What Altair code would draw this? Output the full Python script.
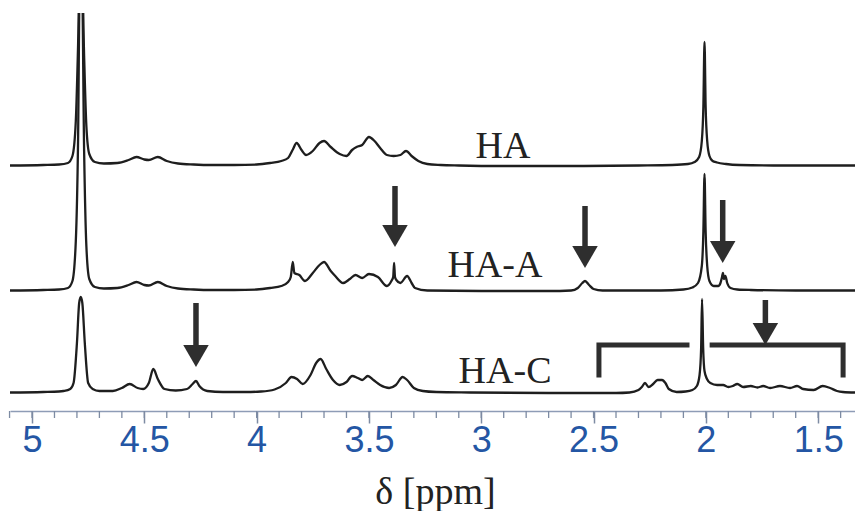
import altair as alt
import pandas as pd

# 1H NMR spectra (intensity above each trace's own baseline, arbitrary units)
ha_ppm = [5.10, 4.95, 4.88, 4.84, 4.82, 4.805, 4.795, 4.787, 4.778, 4.768, 4.758, 4.745, 4.72, 4.68,
          4.62, 4.57, 4.535, 4.50, 4.48, 4.44, 4.40, 4.35, 4.28, 4.20, 4.10, 4.00, 3.94, 3.89, 3.86,
          3.84, 3.822, 3.80, 3.78, 3.75, 3.72, 3.70, 3.67, 3.63, 3.60, 3.575, 3.555, 3.53, 3.50,
          3.475, 3.45, 3.42, 3.39, 3.36, 3.335, 3.31, 3.28, 3.24, 3.18, 3.10, 2.90, 2.60, 2.30, 2.15,
          2.08, 2.05, 2.03, 2.018, 2.011, 2.006, 2.001, 1.994, 1.984, 1.97, 1.95, 1.91, 1.85, 1.70,
          1.50, 1.336]
ha_int = [0.5, 1, 1.5, 3, 10, 45, 120, 200, 200, 110, 40, 12, 4, 2.5,
          3, 6, 9, 6.5, 6, 9, 5, 2.5, 1.5, 1, 1, 1.5, 3, 5, 8,
          16, 23, 16, 11, 15, 23, 25, 19, 12, 10, 16, 19, 21, 29,
          25, 18, 11, 10, 11, 15, 10, 5, 2, 1, 0.5, 0, 0, 0.5, 1,
          2, 4, 9, 25, 60, 124, 60, 25, 10, 5, 3.5, 2, 1, 0.5,
          0.5, 0.5]

haa_ppm = [5.10, 4.95, 4.88, 4.84, 4.82, 4.805, 4.795, 4.787, 4.778, 4.768, 4.758, 4.745, 4.72, 4.68,
           4.62, 4.57, 4.535, 4.50, 4.48, 4.44, 4.40, 4.35, 4.28, 4.20, 4.10, 4.00, 3.94, 3.89, 3.86,
           3.848, 3.839, 3.832, 3.81, 3.785, 3.75, 3.72, 3.70, 3.67, 3.65, 3.615, 3.585, 3.56, 3.53,
           3.50, 3.46, 3.42, 3.40, 3.392, 3.388, 3.384, 3.378, 3.36, 3.33, 3.31, 3.295, 3.24, 3.00,
           2.70, 2.60, 2.57, 2.55, 2.538, 2.52, 2.50, 2.46, 2.20, 2.10, 2.06, 2.035, 2.018, 2.011,
           2.006, 2.001, 1.994, 1.984, 1.965, 1.945, 1.935, 1.928, 1.924, 1.919, 1.913, 1.905, 1.89,
           1.86, 1.80, 1.60, 1.336]
haa_int = [0.5, 1, 1.5, 3, 10, 50, 150, 320, 320, 140, 45, 12, 4, 2.5,
           3, 6, 9, 6, 5.5, 9, 5, 2.5, 1.5, 1, 1, 1.5, 3, 5, 9,
           14, 29, 18, 16, 10, 18, 26, 29, 20, 15, 8, 12, 16, 13,
           17, 14, 5, 10, 14, 28, 14, 11, 8, 15, 8, 3, 0.5, 0,
           0, 0.5, 3, 8, 10, 6, 2, 0.5, 0.5, 1.5, 3.5, 8, 25, 60,
           117, 60, 25, 10, 5, 5, 8, 14, 18, 12, 15, 8, 3,
           1.5, 1, 0.5, 0.5]

hac_ppm = [5.10, 4.95, 4.88, 4.86, 4.83, 4.815, 4.80, 4.79, 4.783, 4.776, 4.765, 4.75, 4.73, 4.70,
           4.64, 4.60, 4.565, 4.53, 4.505, 4.48, 4.46, 4.44, 4.41, 4.36, 4.31, 4.285, 4.27, 4.255,
           4.22, 4.15, 4.05, 3.98, 3.92, 3.87, 3.845, 3.82, 3.795, 3.76, 3.735, 3.715, 3.69, 3.66,
           3.63, 3.60, 3.575, 3.55, 3.53, 3.505, 3.48, 3.45, 3.41, 3.38, 3.35, 3.33, 3.30, 3.26,
           3.20, 3.05, 2.70, 2.40, 2.34, 2.30, 2.285, 2.271, 2.255, 2.235, 2.215, 2.195, 2.18, 2.165,
           2.13, 2.09, 2.06, 2.04, 2.028, 2.021, 2.017, 2.012, 2.006, 1.995, 1.98, 1.95, 1.923, 1.90,
           1.88, 1.86, 1.834, 1.80, 1.77, 1.745, 1.714, 1.67, 1.625, 1.594, 1.567, 1.52, 1.48, 1.447,
           1.416, 1.39, 1.336]
hac_int = [0.5, 1, 1.5, 2, 4, 10, 50, 90, 96, 90, 50, 10, 4, 2,
           2, 5, 9, 5, 4, 10, 24, 14, 4, 2.5, 4, 9, 12, 7,
           2, 1, 1, 1.5, 3.5, 10, 16, 14, 9, 18, 30, 34, 24, 13,
           8, 11, 17, 15, 13, 17, 13, 8, 5, 8, 16, 13, 5, 2,
           1, 0.5, 0, 0, 0.5, 3, 6, 10, 6, 9, 13, 13, 10, 4,
           1, 1.5, 3, 7, 18, 45, 94, 45, 22, 14, 10, 8, 8, 6,
           7, 9, 6, 7, 5.5, 7, 5, 7, 5, 7, 4, 3, 7, 5,
           2, 1, 0.5]

series_names = ["HA", "HA-A", "HA-C"]

# vertical stacking of the three traces and where their names sit
offsets = {"HA": 245, "HA-A": 120, "HA-C": 18}
name_pos = {"HA": (2.903, 253), "HA-A": (2.939, 134), "HA-C": (2.894, 28)}

# arrows: ppm, shaft top, head centre
arrow_ppm = [3.384, 2.538, 1.925, 4.27, 1.735]
arrow_top = [225, 205, 211, 108, 111]
arrow_head = [175, 154, 159, 55, 77]

# brackets over the HA-C region: (group, ppm, y)
bracket_pts = [("L", 2.476, 36), ("L", 2.476, 66), ("L", 2.084, 66),
               ("R", 1.972, 66), ("R", 1.389, 66), ("R", 1.389, 36)]

major_ticks = [5, 4.5, 4, 3.5, 3, 2.5, 2, 1.5]
minor_ticks = [round(5.1 - 0.1 * i, 1) for i in range(38)]

rows = []
for name, ppm, inten in zip(series_names, [ha_ppm, haa_ppm, hac_ppm], [ha_int, haa_int, hac_int]):
    for i, (p, v) in enumerate(zip(ppm, inten)):
        rows.append({"series": name, "ppm": p, "y": v + offsets[name], "idx": i})
spec = pd.DataFrame(rows)

names = pd.DataFrame([{"series": n, "ppm": name_pos[n][0], "y": name_pos[n][1]} for n in series_names])
arrows = pd.DataFrame({"ppm": arrow_ppm, "top": arrow_top, "head": arrow_head})
brackets = pd.DataFrame([{"g": g, "ppm": p, "y": y, "idx": i} for i, (g, p, y) in enumerate(bracket_pts)])
minor = pd.DataFrame({"ppm": minor_ticks})

x_scale = alt.Scale(domain=[1.336, 5.098], reverse=True, nice=False, zero=False)
y_scale = alt.Scale(domain=[0, 398], nice=False, zero=False)
ink = "#1e1e1e"

x_axis = alt.Axis(
    values=major_ticks, format="~g", title="δ [ppm]", grid=False,
    domainColor="#8e9cb6", domainWidth=1.5, tickColor="#7d8ba3", tickWidth=1.5, tickSize=12,
    labelFont="Liberation Sans", labelFontSize=36, labelColor="#2456a4", labelPadding=0,
    labelFlush=False,
    titleFont="Liberation Serif", titleFontSize=38, titleFontWeight="normal", titleColor="#222222",
    titleX=425, titleY=92, titleBaseline="alphabetic", titleAnchor="middle",
)

lines = alt.Chart(spec).mark_line(clip=True, strokeWidth=2.3, interpolate="monotone", color=ink).encode(
    x=alt.X("ppm:Q", scale=x_scale, axis=x_axis),
    y=alt.Y("y:Q", scale=y_scale, axis=None),
    detail="series:N",
    order="idx:Q",
)

minor_rules = alt.Chart(minor).mark_rule(color="#7d8ba3", strokeWidth=1.3).encode(
    x=alt.X("ppm:Q", scale=x_scale),
    y=alt.value(398),
    y2=alt.value(405),
)

labels = alt.Chart(names).mark_text(
    font="Liberation Serif", fontSize=38, color="#222222", align="center", baseline="alphabetic"
).encode(
    x=alt.X("ppm:Q", scale=x_scale),
    y=alt.Y("y:Q", scale=y_scale),
    text="series:N",
)

shafts = alt.Chart(arrows).mark_rule(color="#2e2e2e", strokeWidth=5.5).encode(
    x=alt.X("ppm:Q", scale=x_scale),
    y=alt.Y("top:Q", scale=y_scale),
    y2="head:Q",
)

heads = alt.Chart(arrows).mark_point(
    shape="M-1,-0.86L1,-0.86L0,0.86Z", size=650, filled=True, color="#2e2e2e", opacity=1
).encode(
    x=alt.X("ppm:Q", scale=x_scale),
    y=alt.Y("head:Q", scale=y_scale),
)

bracket_lines = alt.Chart(brackets).mark_line(color="#2e2e2e", strokeWidth=5, strokeCap="square").encode(
    x=alt.X("ppm:Q", scale=x_scale),
    y=alt.Y("y:Q", scale=y_scale),
    detail="g:N",
    order="idx:Q",
)

chart = alt.layer(lines, minor_rules, labels, shafts, heads, bracket_lines).properties(
    width=845,
    height=398,
    padding={"left": 10, "top": 13, "right": 0, "bottom": 100},
    autosize=alt.AutoSizeParams(type="none"),
    background="white",
).configure_view(stroke=None)

chart.save("out.html", embed_options={"renderer": "svg", "actions": False})
